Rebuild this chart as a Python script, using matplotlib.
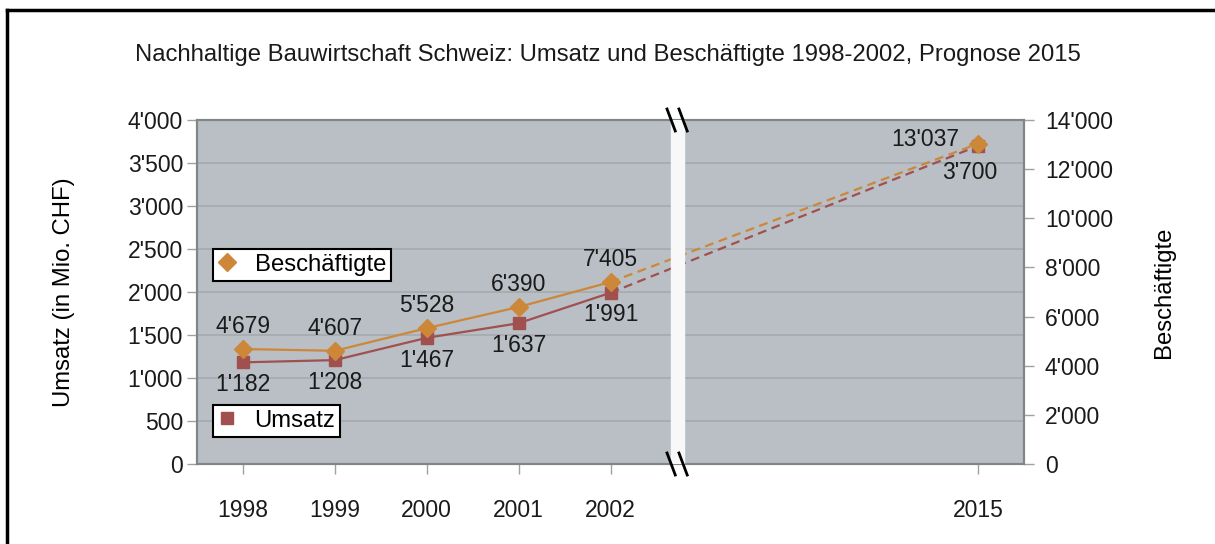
import matplotlib
matplotlib.use('Agg')
import matplotlib.pyplot as plt
from matplotlib.lines import Line2D
from matplotlib.ticker import FuncFormatter, MultipleLocator
from matplotlib.transforms import blended_transform_factory

plt.rcParams['font.family'] = ['Liberation Sans', 'DejaVu Sans']

years = ["1998", "1999", "2000", "2001", "2002", "2015"]
xpos = [0, 1, 2, 3, 4, 8]  # three empty categories stand for the gap 2003-2014
umsatz = [1182, 1208, 1467, 1637, 1991, 3700]
beschaeftigte = [4679, 4607, 5528, 6390, 7405, 13037]

c_orange = "#cd8739"
c_red = "#a0504f"
bg = "#b9bfc4"
grid_c = "#a4aaae"
spine_c = "#7d8785"
fs = 16.5   # tick numbers and data labels
fs_t = 17.2   # title, axis titles, legends


def swiss(v, pos=None):
    return "{:,}".format(int(v)).replace(",", "'")


fig = plt.figure(figsize=(12.15, 5.44), dpi=100)
ax = fig.add_axes([197 / 1215, 1 - 464 / 544, 827 / 1215, 344 / 544])
ax.set_facecolor(bg)
ax2 = ax.twinx()

# Umsatz (left axis)
ax.plot(xpos[:5], umsatz[:5], '-', color=c_red, lw=1.6, zorder=3)
ax.plot(xpos[4:], umsatz[4:], '--', color=c_red, lw=1.6, dashes=(4, 2.5), zorder=3)
ax.plot(xpos, umsatz, 's', color=c_red, ms=9, zorder=4)

# Beschaeftigte (right axis)
ax2.plot(xpos[:5], beschaeftigte[:5], '-', color=c_orange, lw=1.6, zorder=3)
ax2.plot(xpos[4:], beschaeftigte[4:], '--', color=c_orange, lw=1.6, dashes=(4, 2.5), zorder=3)
ax2.plot(xpos, beschaeftigte, 'D', color=c_orange, ms=9.5, zorder=4)

# data labels
for i, (x, v) in enumerate(zip(xpos, umsatz)):
    off = (-6, -19) if i == 5 else (0, -16)
    ax.annotate(swiss(v), (x, v), xytext=off, textcoords='offset points',
                ha='center', va='center', fontsize=fs, color='#1a1a1a')
for i, (x, v) in enumerate(zip(xpos, beschaeftigte)):
    off = (-38, 3) if i == 5 else (0, 16)
    ax2.annotate(swiss(v), (x, v), xytext=off, textcoords='offset points',
                 ha='center', va='center', fontsize=fs, color='#1a1a1a')

ax.set_xlim(-0.5, 8.5)
ax.set_ylim(0, 4000)
ax2.set_ylim(0, 14000)
ax.yaxis.set_major_locator(MultipleLocator(500))
ax2.yaxis.set_major_locator(MultipleLocator(2000))
ax.yaxis.set_major_formatter(FuncFormatter(swiss))
ax2.yaxis.set_major_formatter(FuncFormatter(swiss))
ax.set_xticks(xpos)
ax.set_xticklabels(years)
ax.grid(axis='y', color=grid_c, lw=1.2)
ax.set_axisbelow(True)

for a in (ax, ax2):
    for s in a.spines.values():
        s.set_color(spine_c)
        s.set_linewidth(1.5)
    a.tick_params(labelsize=fs, colors='#1a1a1a', length=7, width=1)
    a.tick_params(axis='both', color='#a0a0a0')
ax.tick_params(axis='x', pad=18)
ax.tick_params(axis='y', pad=3)
ax2.tick_params(axis='y', pad=8)

ax.set_ylabel("Umsatz (in Mio. CHF)", fontsize=fs_t, labelpad=38)
ax2.set_ylabel("Beschäftigte", fontsize=fs_t, labelpad=29)

# axis break
ax2.axvspan(4.66, 4.80, color='#f8f8f8', zorder=6)
trans = blended_transform_factory(ax.transData, ax.transAxes)
for yb in (0.0, 1.0):
    for xb in (4.66, 4.79):
        ax2.plot([xb - 0.045, xb + 0.045], [yb + 0.032, yb - 0.032], color='black',
                 lw=2, transform=trans, clip_on=False, zorder=7)

# legends
h1 = Line2D([], [], ls='none', marker='D', color=c_orange, ms=9)
h2 = Line2D([], [], ls='none', marker='s', color=c_red, ms=9)
kw = dict(loc='upper left', fontsize=fs_t, frameon=True, fancybox=False, framealpha=1,
          edgecolor='black', handlelength=0.8, handletextpad=0.75, borderpad=0.2,
          borderaxespad=0)
leg1 = ax2.legend([h1], ["Beschäftigte"], bbox_to_anchor=(0.019, 0.625), **kw)
leg1.get_frame().set_linewidth(1.5)
ax2.add_artist(leg1)
leg2 = ax2.legend([h2], ["Umsatz"], bbox_to_anchor=(0.019, 0.1715), **kw)
leg2.get_frame().set_linewidth(1.5)

fig.text(608 / 1215, 1 - 55 / 544, "Nachhaltige Bauwirtschaft Schweiz: Umsatz und Beschäftigte 1998-2002, Prognose 2015",
         ha='center', va='center', fontsize=fs_t, color='#1a1a1a')

# outer frame (cut at the right and bottom)
fig.add_artist(Line2D([7 / 1215, 1], [1 - 10 / 544, 1 - 10 / 544], color='black', lw=2.5,
                      transform=fig.transFigure))
fig.add_artist(Line2D([7 / 1215, 7 / 1215], [0, 1 - 10 / 544], color='black', lw=2.5,
                      transform=fig.transFigure))

fig.savefig("out.png", dpi=100)
